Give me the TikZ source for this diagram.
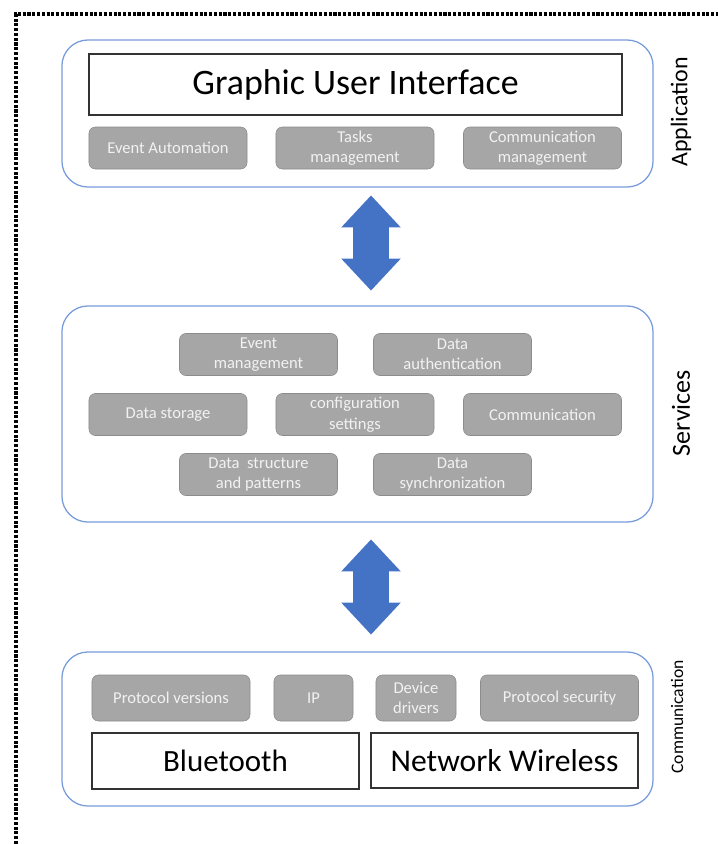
\documentclass[tikz,border=0pt]{standalone}
\usepackage{fontspec}
\setmainfont{Carlito}
\usetikzlibrary{shapes.arrows}
\definecolor{layerblue}{RGB}{120,155,220}
\definecolor{arrowblue}{RGB}{68,114,196}
\definecolor{boxgray}{RGB}{166,166,166}
\definecolor{boxedge}{RGB}{140,140,140}

\begin{document}
\begin{tikzpicture}[x=0.025cm,y=-0.025cm,
  layer/.style={draw=layerblue,line width=0.9pt,rounded corners=0.65cm,
    minimum width=14.775cm,inner sep=0pt},
  tbox/.style={draw=black!80,line width=0.9pt,inner sep=0pt},
  gbox/.style={draw=boxedge,fill=boxgray,rounded corners=0.16cm,
    text=white!95!black,align=center,inner sep=0pt,
    minimum width=3.95cm,minimum height=1.05cm,
    font=\fontsize{11.8}{14.5}\selectfont},
  side/.style={rotate=90,font=\fontsize{17}{20}\selectfont},
  dblarrow/.style={double arrow,fill=arrowblue,rotate=90,inner sep=0pt,
    minimum height=2.375cm,
    double arrow head extend=0.3cm,double arrow tip angle=86}]

  \useasboundingbox (0,0) rectangle (718,844);

  % dotted frame
  \draw[line width=2.2pt,dash pattern=on 2.2pt off 1.2pt] (16,844) -- (16,14) -- (718,14);

  % application layer
  \node[layer,minimum height=3.675cm] (app) at (357.5,113.5) {};
  \node[tbox,minimum width=13.325cm,minimum height=1.525cm,
    font=\fontsize{25.5}{30}\selectfont] (gui) at (355.5,84.5) {Graphic User Interface};
  \node[gbox] (evauto) at (168,148) {Event Automation};
  \node[gbox] (tasks) at (355,148) {Tasks\\management};
  \node[gbox] (commgmt) at (542.5,148) {Communication\\management};
  \node[side] (applbl) at (681,112) {Application};

  \node[dblarrow] (arrA) at (371,243) {\rule{0pt}{0.875cm}};

  % services layer
  \node[layer,minimum height=5.4cm] (srv) at (357.5,414) {};
  \node[gbox] (evmgmt) at (258.5,354.5) {Event\\management};
  \node[gbox] (auth) at (452.5,354.5) {Data\\authentication};
  \node[gbox] (storage) at (168,414.5) {Data storage};
  \node[gbox] (config) at (355,414.5) {configuration\\settings};
  \node[gbox] (comm) at (542.5,414.5) {Communication};
  \node[gbox] (struct) at (258.5,474.5) {Data\ \ structure\\and patterns};
  \node[gbox] (sync) at (452.5,474.5) {Data\\synchronization};
  \node[side,font=\fontsize{18.5}{22}\selectfont] (srvlbl) at (681,413) {Services};

  \node[dblarrow] (arrB) at (371,587) {\rule{0pt}{0.875cm}};

  % communication layer
  \node[layer,minimum height=3.85cm] (com) at (357.5,729) {};
  \node[gbox,minimum height=1.15cm] (protver) at (171,698) {Protocol versions};
  \node[gbox,minimum height=1.15cm,minimum width=1.975cm] (ip) at (313.5,698) {IP};
  \node[gbox,minimum height=1.15cm,minimum width=2cm] (drivers) at (416,698) {Device\\drivers};
  \node[gbox,minimum height=1.15cm] (protsec) at (559.5,698) {Protocol security};
  \node[tbox,minimum width=6.675cm,minimum height=1.4cm,
    font=\fontsize{22}{26}\selectfont] (bt) at (225.5,761) {Bluetooth};
  \node[tbox,minimum width=6.675cm,minimum height=1.375cm,
    font=\fontsize{22.5}{26}\selectfont] (wifi) at (504.5,760.5) {Network Wireless};
  \node[side,font=\fontsize{12.5}{15}\selectfont] (comlbl) at (677,717) {Communication};

\end{tikzpicture}
\end{document}
